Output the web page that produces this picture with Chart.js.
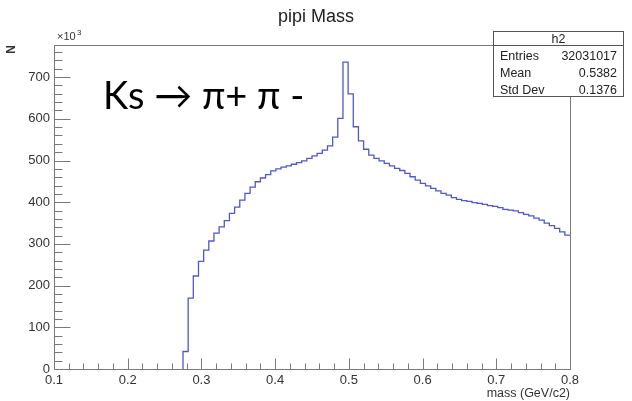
<!DOCTYPE html>
<html>
<head>
<meta charset="utf-8">
<script src="https://cdn.jsdelivr.net/npm/chart.js@4"></script>
<style>
  html, body { margin: 0; padding: 0; background: #fff; }
  canvas { display: block; }
</style>
</head>
<body>
<canvas id="massChart" width="632" height="401"></canvas>
<script>
// histogram h2: 100 bins from 0.1 to 0.8 GeV/c2, counts in units of 10^3
const binLow = 0.1;
const binHigh = 0.8;
const nBins = 100;
const firstBin = 25; // bins below this are empty
const counts = [
    42, 170, 223, 258, 285, 307, 326, 341, 356, 373, 388, 405, 421, 436, 449,
    458, 466, 475, 480, 484, 487, 491, 495, 499, 505, 511, 517, 525, 535, 556,
    601, 736, 660, 581, 547,
    527, 513, 505, 499, 493, 487, 481, 476, 469, 461, 453, 445, 439, 433, 427,
    421, 417, 411, 407, 404,
    402, 399, 397, 395, 392, 390, 387, 383, 381, 379, 375, 371, 367, 362, 357,
    350, 344, 337, 329, 321
];
const xTicks = [0.1, 0.2, 0.3, 0.4, 0.5, 0.6, 0.7, 0.8];
const yTicks = [0, 100, 200, 300, 400, 500, 600, 700];
const stats = [
    ['Entries', '32031017'],
    ['Mean', '0.5382'],
    ['Std Dev', '0.1376']
];

const binWidth = (binHigh - binLow) / nBins;
const edge = i => binLow + i * binWidth;

// each point starts a bin; 'before' stepping holds its value up to the next edge
const points = [{ x: edge(firstBin), y: 0 }];
counts.forEach((c, i) => points.push({ x: edge(firstBin + i), y: c }));
points.push({ x: edge(firstBin + counts.length), y: counts[counts.length - 1] });

const rootFont = '"Liberation Sans", Arial, sans-serif';

const rootFrame = {
    id: 'rootFrame',
    afterDraw(chart) {
        const ctx = chart.ctx;
        const a = chart.chartArea;
        const xs = chart.scales.x;
        const ys = chart.scales.y;
        const L = Math.round(a.left) + 0.5, R = Math.round(a.right) + 0.5;
        const T = Math.round(a.top) + 0.5, B = Math.round(a.bottom) + 0.5;
        ctx.save();
        ctx.strokeStyle = '#7a7a7a';
        ctx.lineWidth = 1;
        ctx.strokeRect(L, T, R - L, B - T);

        // ticks drawn inward, ROOT style
        ctx.beginPath();
        for (let v = 0.1; v <= 0.8001; v += 0.02) {
            const px = Math.round(xs.getPixelForValue(v)) + 0.5;
            const major = Math.abs(v * 10 - Math.round(v * 10)) < 1e-6;
            ctx.moveTo(px, B);
            ctx.lineTo(px, B - (major ? 11 : 6));
        }
        for (let v = 0; v <= ys.max; v += 20) {
            const py = Math.round(ys.getPixelForValue(v)) + 0.5;
            const major = v % 100 === 0;
            ctx.moveTo(L, py);
            ctx.lineTo(L + (major ? 16 : 8), py);
        }
        ctx.stroke();

        // exponent label
        ctx.fillStyle = '#333';
        ctx.font = '11px ' + rootFont;
        ctx.textAlign = 'left';
        ctx.textBaseline = 'alphabetic';
        ctx.fillText('\u00d710', a.left + 3, a.top - 5);
        ctx.font = '8px ' + rootFont;
        ctx.fillText('3', a.left + 23, a.top - 10);

        // stats box
        const bx = 493.5, by = 31.5, bw = 130, bh = 65;
        ctx.fillStyle = '#fff';
        ctx.fillRect(bx, by, bw, bh);
        ctx.strokeStyle = '#555';
        ctx.strokeRect(bx, by, bw, bh);
        ctx.beginPath();
        ctx.moveTo(bx, T);
        ctx.lineTo(bx + bw, T);
        ctx.stroke();
        ctx.fillStyle = '#222';
        ctx.font = '12.5px ' + rootFont;
        ctx.textAlign = 'center';
        ctx.fillText('h2', bx + bw / 2, 43);
        stats.forEach((row, i) => {
            const y = 59.5 + i * 17;
            ctx.textAlign = 'left';
            ctx.fillText(row[0], 500, y);
            ctx.textAlign = 'right';
            ctx.fillText(row[1], 617, y);
        });

        // annotation
        ctx.fillStyle = '#000';
        ctx.font = '38px Lato, "Open Sans", sans-serif';
        ctx.textAlign = 'left';
        ctx.fillText('Ks \u2192 \u03c0+ \u03c0 -', 103, 109);
        ctx.restore();
    }
};

const config = {
    type: 'line',
    data: {
        datasets: [{
            label: 'h2',
            data: points,
            stepped: 'before',
            borderColor: '#5058cc',
            borderWidth: 1.3,
            pointRadius: 0,
            fill: false
        }]
    },
    options: {
        responsive: false,
        animation: false,
        layout: { padding: 0 },
        plugins: {
            legend: { display: false },
            tooltip: { enabled: false },
            title: {
                display: true,
                text: 'pipi Mass',
                color: '#222',
                font: { family: rootFont, size: 18, weight: 'normal' },
                padding: { top: 6, bottom: 17.4 }
            }
        },
        scales: {
            x: {
                type: 'linear',
                min: binLow,
                max: binHigh,
                grid: { display: false, drawTicks: false },
                border: { display: false },
                afterBuildTicks: s => { s.ticks = xTicks.map(v => ({ value: v })); },
                ticks: {
                    color: '#333',
                    padding: 4,
                    maxRotation: 0,
                    font: { family: rootFont, size: 13 },
                    callback: v => v.toFixed(1)
                },
                title: {
                    display: true,
                    text: 'mass (GeV/c2)',
                    align: 'end',
                    color: '#333',
                    font: { family: rootFont, size: 12.5 },
                    padding: { top: 0, bottom: 0 }
                },
                afterFit: s => { s.height = 32; }
            },
            y: {
                min: 0,
                max: 777,
                grid: { display: false, drawTicks: false },
                border: { display: false },
                afterBuildTicks: s => { s.ticks = yTicks.map(v => ({ value: v })); },
                ticks: {
                    color: '#333',
                    padding: 4,
                    font: { family: rootFont, size: 13 }
                },
                title: {
                    display: true,
                    text: 'N',
                    align: 'end',
                    color: '#333',
                    font: { family: rootFont, size: 12, weight: 'bold' },
                    padding: { top: 4, bottom: 0 }
                },
                afterFit: s => { s.width = 54; }
            },
            // empty right margin so the title centres on the whole canvas
            yRight: {
                position: 'right',
                display: true,
                grid: { display: false, drawTicks: false },
                border: { display: false },
                ticks: { display: false },
                afterFit: s => { s.width = 62; }
            }
        }
    },
    plugins: [rootFrame]
};

var massChart = new Chart(document.getElementById('massChart'), config);
</script>
</body>
</html>
